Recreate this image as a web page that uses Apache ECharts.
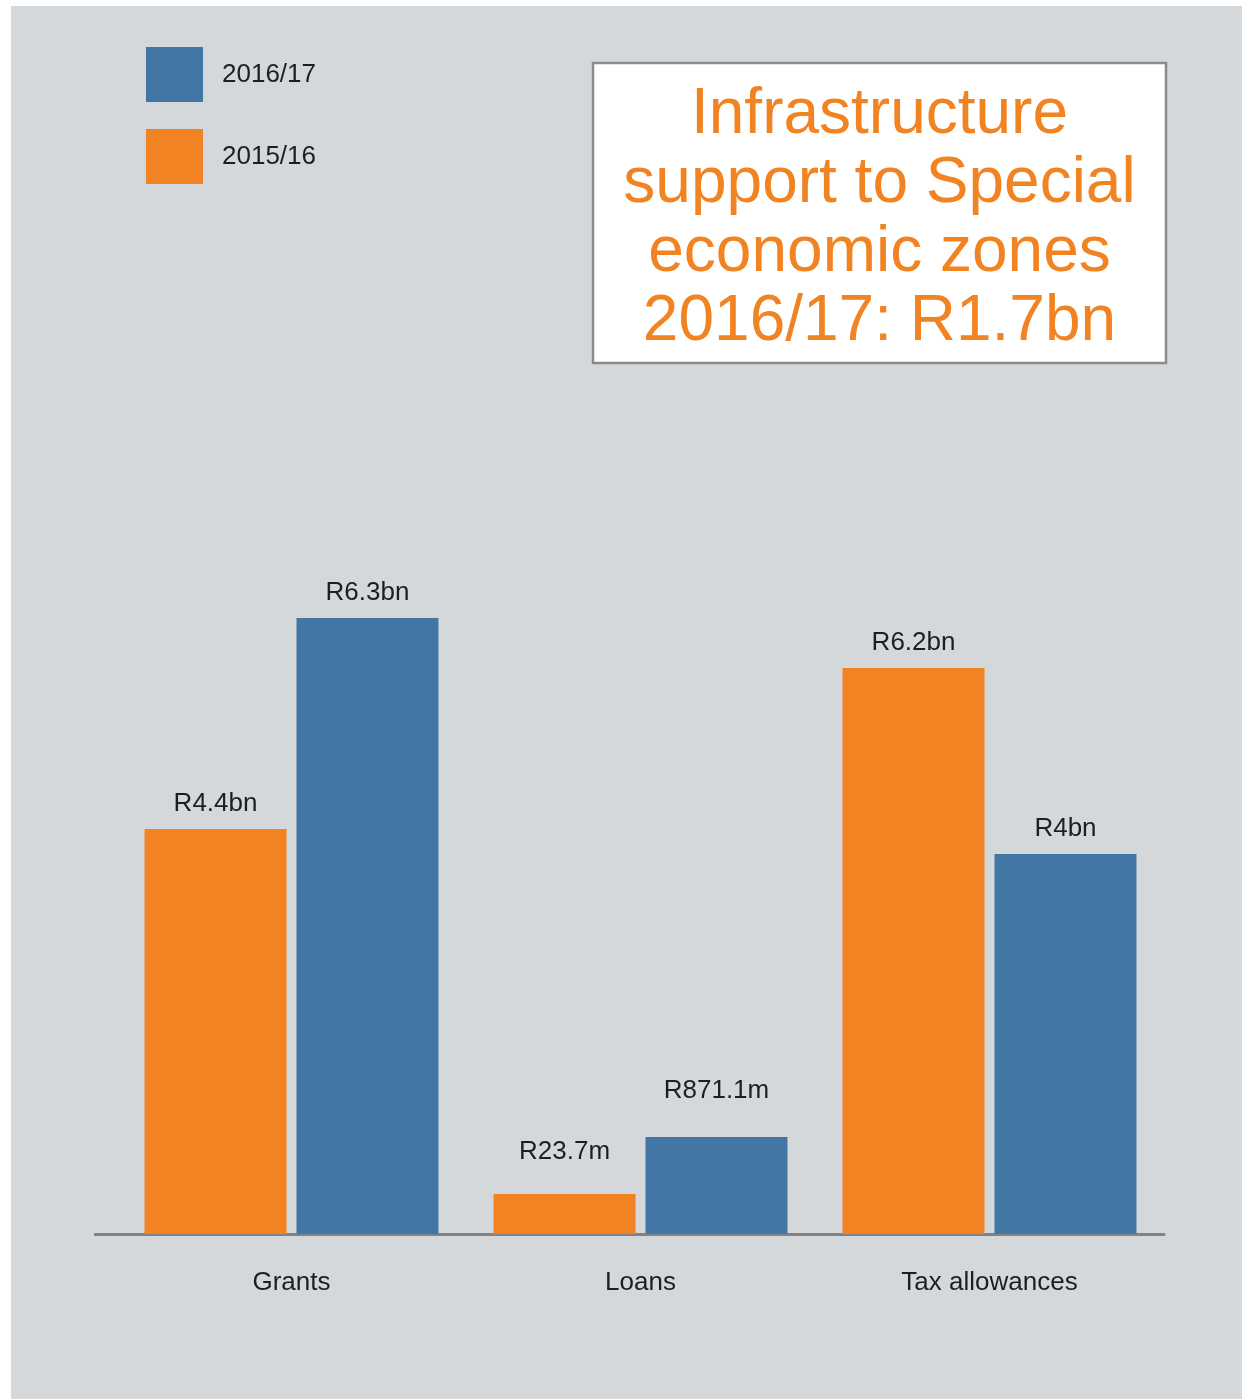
<!DOCTYPE html>
<html>
<head>
<meta charset="utf-8">
<script src="https://cdn.jsdelivr.net/npm/echarts@6/dist/echarts.min.js"></script>
<style>
  html, body { margin: 0; padding: 0; background: #ffffff; }
  #chart { position: absolute; left: 11px; top: 6px; width: 1231px; height: 1393px; }
</style>
</head>
<body>
<div id="chart"></div>
<script>
// Categories
const categories = ['Grants', 'Loans', 'Tax allowances'];
// Bar heights as drawn in the picture (schematic, relative units)
const heights201516 = [4.05, 0.40, 5.66];
const heights201617 = [6.16, 0.97, 3.80];
// Value labels printed above bars
const labels201516 = ['R4.4bn', 'R23.7m', 'R6.2bn'];
const labels201617 = ['R6.3bn', 'R871.1m', 'R4bn'];
// Series names
const seriesNames = ['2015/16', '2016/17'];
const titleLines = ['Infrastructure', 'support to Special', 'economic zones', '2016/17: R1.7bn'];

// Styles
const ORANGE = '#f28322';
const BLUE = '#4277a5';
const FONT = "'Liberation Sans', Arial, Helvetica, sans-serif";
const TEXT = '#1e1e1e';
const labelDistance201516 = [12, 29, 12];
const labelDistance201617 = [12, 33, 12];

function buildData(values, labels, distances) {
  return values.map((v, i) => ({
    value: v,
    label: { formatter: labels[i], distance: distances[i] }
  }));
}

const chart = echarts.init(document.getElementById('chart'));
chart.setOption({
  backgroundColor: '#d5d8db',
  animation: false,
  legend: {
    data: [
      { name: seriesNames[1] },
      { name: seriesNames[0], textStyle: { padding: [0, 0, 12, 14] } }
    ],
    orient: 'vertical',
    left: 135,
    top: 41,
    padding: 0,
    itemWidth: 57,
    itemHeight: 55,
    itemGap: 27,
    icon: 'rect',
    textStyle: { fontFamily: FONT, fontSize: 26, color: TEXT, padding: [0, 0, 0, 14] }
  },
  grid: { left: 106, right: 78, top: 428, bottom: 165, containLabel: false },
  xAxis: {
    type: 'category',
    data: categories,
    axisLine: { lineStyle: { color: '#808285', width: 3 } },
    axisTick: { show: false },
    axisLabel: { fontFamily: FONT, fontSize: 26, color: TEXT, margin: 36 }
  },
  yAxis: {
    type: 'value',
    min: 0,
    max: 8,
    show: false,
    splitLine: { show: false }
  },
  series: [
    {
      name: seriesNames[0],
      type: 'bar',
      data: buildData(heights201516, labels201516, labelDistance201516),
      barWidth: 142,
      barGap: '7%',
      itemStyle: { color: ORANGE },
      label: { show: true, position: 'top', fontFamily: FONT, fontSize: 26, color: TEXT }
    },
    {
      name: seriesNames[1],
      type: 'bar',
      data: buildData(heights201617, labels201617, labelDistance201617),
      barWidth: 142,
      barGap: '7%',
      itemStyle: { color: BLUE },
      label: { show: true, position: 'top', fontFamily: FONT, fontSize: 26, color: TEXT }
    }
  ],
  graphic: [
    {
      type: 'line',
      shape: { x1: 83, y1: 1228.5, x2: 108, y2: 1228.5 },
      style: { stroke: '#808285', lineWidth: 3 }
    },
    {
      type: 'rect',
      shape: { x: 582, y: 57, width: 573, height: 300 },
      style: { fill: '#ffffff', stroke: '#8a8b8d', lineWidth: 2.5 }
    },
    {
      type: 'text',
      x: 868.5,
      y: 213,
      style: {
        text: titleLines.join('\n'),
        fill: ORANGE,
        font: "64px 'Liberation Sans', Arial, sans-serif",
        lineHeight: 69,
        align: 'center',
        verticalAlign: 'middle'
      }
    }
  ]
});
</script>
</body>
</html>
